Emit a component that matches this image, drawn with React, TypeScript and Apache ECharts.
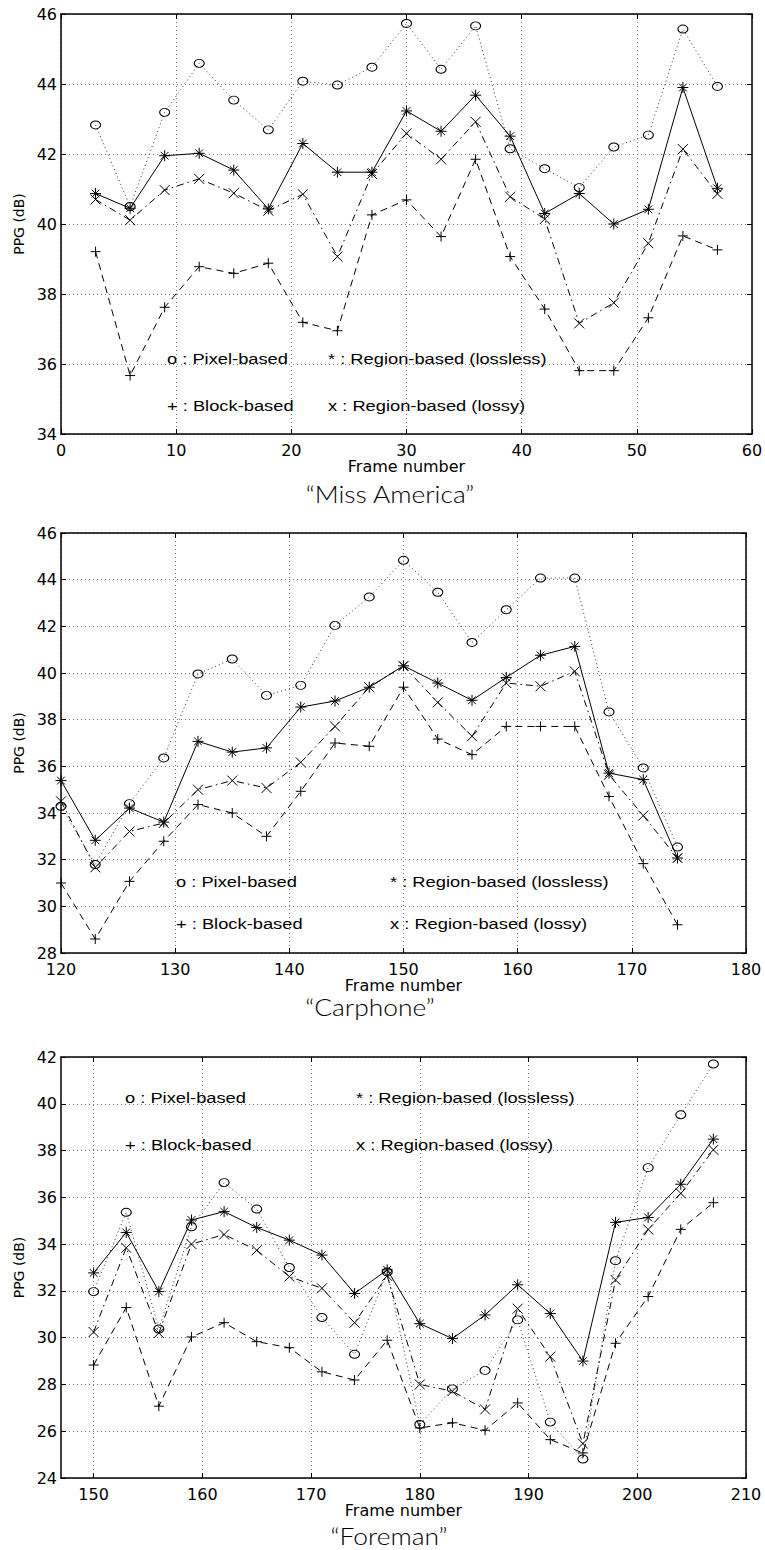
import React, { useEffect, useRef } from "react";
import * as echarts from "echarts";

// ---------- Panel 1: "Miss America" ----------
const frames1 = [3, 6, 9, 12, 15, 18, 21, 24, 27, 30, 33, 36, 39, 42, 45, 48, 51, 54, 57];
const pixel1 = [42.83, 40.5, 43.19, 44.59, 43.54, 42.69, 44.08, 43.97, 44.48, 45.73, 44.42, 45.66, 42.15, 41.58, 41.04, 42.2, 42.54, 45.57, 43.93];
const lossless1 = [40.87, 40.45, 41.95, 42.02, 41.54, 40.43, 42.3, 41.48, 41.48, 43.23, 42.65, 43.68, 42.51, 40.3, 40.87, 40.0, 40.42, 43.9, 41.02];
const lossy1 = [40.7, 40.11, 40.97, 41.29, 40.88, 40.38, 40.85, 39.07, 41.43, 42.59, 41.85, 42.92, 40.78, 40.14, 37.16, 37.75, 39.45, 42.14, 40.86];
const block1 = [39.21, 35.67, 37.62, 38.78, 38.59, 38.88, 37.19, 36.95, 40.26, 40.69, 39.64, 41.85, 39.07, 37.57, 35.81, 35.81, 37.32, 39.66, 39.26];

// ---------- Panel 2: "Carphone" ----------
const frames2 = [120, 123, 126, 129, 132, 135, 138, 141, 144, 147, 150, 153, 156, 159, 162, 165, 168, 171, 174];
const pixel2 = [34.29, 31.79, 34.4, 36.36, 39.96, 40.6, 39.04, 39.47, 42.04, 43.26, 44.83, 43.46, 41.31, 42.71, 44.07, 44.07, 38.33, 35.93, 32.54];
const lossless2 = [35.39, 32.83, 34.21, 33.61, 37.07, 36.61, 36.79, 38.54, 38.8, 39.39, 40.31, 39.57, 38.83, 39.81, 40.76, 41.14, 35.71, 35.43, 32.07];
const lossy2 = [34.5, 31.67, 33.21, 33.57, 35.0, 35.39, 35.07, 36.17, 37.71, 39.39, 40.3, 38.74, 37.29, 39.57, 39.43, 40.07, 35.64, 33.89, 32.07];
const block2 = [31.0, 28.6, 31.07, 32.79, 34.36, 34.0, 33.0, 34.93, 37.0, 36.86, 39.39, 37.17, 36.5, 37.71, 37.71, 37.71, 34.71, 31.83, 29.21];

// ---------- Panel 3: "Foreman" ----------
const frames3 = [150, 153, 156, 159, 162, 165, 168, 171, 174, 177, 180, 183, 186, 189, 192, 195, 198, 201, 204, 207];
const pixel3 = [31.97, 35.36, 30.37, 34.74, 36.63, 35.5, 33.0, 30.86, 29.29, 32.81, 26.29, 27.81, 28.6, 30.76, 26.39, 24.81, 33.29, 37.27, 39.53, 41.7];
const lossless3 = [32.77, 34.5, 31.97, 35.03, 35.39, 34.71, 34.17, 33.53, 31.89, 32.9, 30.6, 29.96, 30.97, 32.26, 31.03, 29.0, 34.93, 35.14, 36.56, 38.49];
const lossy3 = [30.24, 33.84, 30.2, 34.0, 34.41, 33.74, 32.61, 32.11, 30.64, 32.64, 28.0, 27.71, 26.93, 31.24, 29.19, 25.47, 32.47, 34.63, 36.17, 38.03];
const block3 = [28.83, 31.29, 27.07, 30.03, 30.64, 29.83, 29.57, 28.54, 28.19, 29.89, 26.14, 26.36, 26.04, 27.21, 25.64, 25.07, 29.76, 31.76, 34.63, 35.77];
const xTicks3 = [150, 160, 170, 180, 190, 200, 210];

const titles = ["\u201cMiss America\u201d", "\u201cCarphone\u201d", "\u201cForeman\u201d"];
const legendTexts = ["o : Pixel-based", "* : Region-based (lossless)", "+ : Block-based", "x : Region-based (lossy)"];
const xName = "Frame number";
const yName = "PPG (dB)";

const W = 765;
const H = 1550;
const AXFONT = "DejaVu Sans";

const SYM_CIRCLE = "path://M10 5 A5 5 0 1 1 0 5 A5 5 0 1 1 10 5 A5 5 0 1 0 0 5 A5 5 0 1 0 10 5";
const SYM_STAR = "path://M5 0 L5 10 M0 5 L10 5 M1.5 1.5 L8.5 8.5 M1.5 8.5 L8.5 1.5";
const SYM_X = "path://M0 0 L10 10 M0 10 L10 0";
const SYM_PLUS = "path://M5 0 L5 10 M0 5 L10 5";

type Panel = {
  grid: { left: number; top: number; width: number; height: number };
  xMin: number; xMax: number; xInterval?: number; xCustom?: number[];
  yMin: number; yMax: number;
  frames: number[]; pixel: number[]; lossless: number[]; lossy: number[]; block: number[];
  title: string; titleX: number; titleY: number;
  legend: { x1: number; x2: number; y1: number; y2: number };
};

const panels: Panel[] = [
  {
    grid: { left: 61, top: 14, width: 691, height: 420 },
    xMin: 0, xMax: 60, xInterval: 10, yMin: 34, yMax: 46,
    frames: frames1, pixel: pixel1, lossless: lossless1, lossy: lossy1, block: block1,
    title: titles[0], titleX: 390, titleY: 493,
    legend: { x1: 167, x2: 328, y1: 359, y2: 406 },
  },
  {
    grid: { left: 61, top: 533, width: 685, height: 420 },
    xMin: 120, xMax: 180, xInterval: 10, yMin: 28, yMax: 46,
    frames: frames2, pixel: pixel2, lossless: lossless2, lossy: lossy2, block: block2,
    title: titles[1], titleX: 370, titleY: 1006,
    legend: { x1: 176, x2: 390, y1: 882, y2: 924 },
  },
  {
    grid: { left: 61, top: 1057, width: 685, height: 421 },
    xMin: 147, xMax: 210, xCustom: xTicks3, yMin: 24, yMax: 42,
    frames: frames3, pixel: pixel3, lossless: lossless3, lossy: lossy3, block: block3,
    title: titles[2], titleX: 389, titleY: 1535,
    legend: { x1: 125, x2: 356, y1: 1098, y2: 1145 },
  },
];

function buildOption() {
  const grid: any[] = [];
  const xAxis: any[] = [];
  const yAxis: any[] = [];
  const series: any[] = [];
  const graphic: any[] = [];

  panels.forEach((p, i) => {
    grid.push({ ...p.grid, containLabel: false, outerBoundsMode: "none" });
    const tickCommon = { show: true, inside: true, length: 5, lineStyle: { color: "#000", width: 1 } };
    const xTick: any = { ...tickCommon };
    const xLabel: any = { show: true, color: "#000", fontFamily: AXFONT, fontSize: 16, margin: 8, lineHeight: 16 };
    if (p.xCustom) {
      xTick.customValues = p.xCustom;
      xLabel.customValues = p.xCustom;
    }
    const xBase: any = { type: "value", gridIndex: i, min: p.xMin, max: p.xMax };
    if (p.xInterval) xBase.interval = p.xInterval;
    const axLine = { show: true, onZero: false, lineStyle: { color: "#000", width: 1.5 } };
    xAxis.push({
      ...xBase,
      position: "bottom",
      axisLine: axLine,
      axisTick: xTick,
      axisLabel: xLabel,
      splitLine: { show: true, lineStyle: { color: "#777", type: [1, 3], width: 1 } },
      name: xName,
      nameLocation: "middle",
      nameGap: 20,
      nameTextStyle: { color: "#000", fontFamily: AXFONT, fontSize: 16 },
    });
    xAxis.push({
      ...xBase,
      position: "top",
      axisLine: axLine,
      axisTick: { ...xTick },
      axisLabel: p.xCustom ? { show: false, customValues: p.xCustom } : { show: false },
      splitLine: { show: false },
    });
    const yBase: any = { type: "value", gridIndex: i, min: p.yMin, max: p.yMax, interval: 2 };
    yAxis.push({
      ...yBase,
      position: "left",
      axisLine: axLine,
      axisTick: { ...tickCommon },
      axisLabel: { show: true, color: "#000", fontFamily: AXFONT, fontSize: 16, margin: 4, lineHeight: 14 },
      splitLine: { show: true, lineStyle: { color: "#777", type: [1, 3], width: 1 } },
      name: yName,
      nameLocation: "middle",
      nameGap: 30,
      nameRotate: 90,
      nameTextStyle: { color: "#000", fontFamily: AXFONT, fontSize: 14 },
    });
    yAxis.push({
      ...yBase,
      position: "right",
      axisLine: axLine,
      axisTick: { ...tickCommon },
      axisLabel: { show: false },
      splitLine: { show: false },
    });

    const mk = (name: string, vals: number[], symbol: string, size: any, lineType: any, lineColor: string, lw: number) => ({
      name,
      type: "line",
      xAxisIndex: i * 2,
      yAxisIndex: i * 2,
      data: p.frames.map((f, k) => [f, vals[k]]),
      symbol,
      symbolSize: size,
      showSymbol: true,
      showAllSymbol: true,
      silent: true,
      lineStyle: { color: lineColor, width: lw, type: lineType },
      itemStyle: { color: "#000", borderColor: "#000", borderWidth: 1 },
      emphasis: { disabled: true },
    });
    series.push(mk("Pixel-based", p.pixel, SYM_CIRCLE, [10, 8], [1, 3], "#333", 1));
    series.push(mk("Block-based", p.block, SYM_PLUS, [10, 10], [7, 5], "#000", 1));
    series.push(mk("Region-based (lossy)", p.lossy, SYM_X, [10, 10], [7, 4, 1.5, 4], "#000", 1));
    series.push(mk("Region-based (lossless)", p.lossless, SYM_STAR, [11, 11], "solid", "#000", 1));

    const lf = '15px "Liberation Sans", Arial, sans-serif';
    const L = p.legend;
    const pos = [
      [L.x1, L.y1],
      [L.x2, L.y1],
      [L.x1, L.y2],
      [L.x2, L.y2],
    ];
    legendTexts.forEach((t, k) => {
      graphic.push({
        type: "text",
        x: pos[k][0],
        y: pos[k][1],
        scaleX: 1.22,
        silent: true,
        z: 10,
        style: { text: t, font: lf, fill: "#000", align: "left", verticalAlign: "middle" },
      });
    });
    graphic.push({
      type: "text",
      x: p.titleX,
      y: p.titleY,
      scaleX: 1.1,
      silent: true,
      style: { text: p.title, font: '300 24px Lato, "Noto Sans", sans-serif', fill: "#000", align: "center", verticalAlign: "middle" },
    });
  });

  return {
    animation: false,
    backgroundColor: "#fff",
    grid,
    xAxis,
    yAxis,
    series,
    graphic: { elements: graphic },
  };
}

export default function App() {
  const ref = useRef<HTMLDivElement>(null);
  useEffect(() => {
    document.body.style.margin = "0";
    const chart = echarts.init(ref.current!, null, { renderer: "svg" });
    chart.setOption(buildOption() as any);
    return () => {
      chart.dispose();
    };
  }, []);
  return <div ref={ref} style={{ width: W, height: H, background: "#fff" }} />;
}
